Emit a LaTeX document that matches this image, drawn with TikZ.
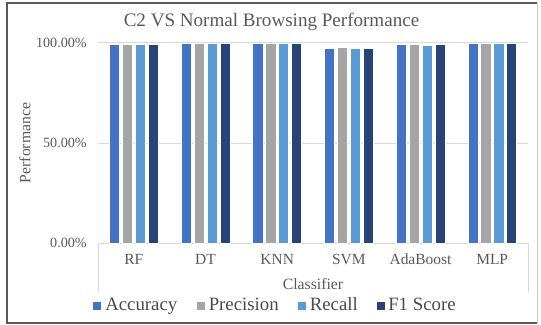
\documentclass[tikz,border=0pt]{standalone}
\usepackage{fontspec}
\setmainfont{Liberation Serif}
\usepackage{tikz}
\definecolor{acc}{HTML}{4472C4}
\definecolor{prec}{HTML}{A5A5A5}
\definecolor{rec}{HTML}{5B9BD5}
\definecolor{fone}{HTML}{264478}
\definecolor{grid}{HTML}{D9D9D9}
\definecolor{txt}{HTML}{595959}
\definecolor{legtxt}{HTML}{4A4A4A}
\tikzset{bar/.style={draw=white,line width=0.35pt}}
\tikzset{gridline/.style={draw=grid,line width=0.75pt}}
\tikzset{ticklab/.style={text=txt,anchor=base east,inner sep=0pt,font=\fontsize{10.6}{12}\selectfont}}
\tikzset{catlab/.style={text=txt,anchor=base,inner sep=0pt,font=\fontsize{11.6}{13}\selectfont}}
\tikzset{axislab/.style={text=txt,inner sep=0pt,font=\fontsize{11.8}{13}\selectfont}}
\tikzset{legbox/.style={minimum size=6pt,inner sep=0pt}}
\tikzset{legtext/.style={text=legtxt,anchor=base west,inner sep=0pt,font=\fontsize{14.1}{16}\selectfont}}

\begin{document}
\begin{tikzpicture}[x=0.75pt,y=-0.75pt]
    \useasboundingbox (0,0) rectangle (541,324);

    % frame
    \draw[draw=black!65,line width=1.1pt] (537,3) -- (7,3) -- (7,323) -- (537,323);
    \draw[draw=black!20,line width=0.6pt] (537,3) -- (537,323);

    % title
    \node[text=txt,anchor=base,inner sep=0pt,font=\fontsize{14.3}{16}\selectfont] (title) at (271.5,27)
    {C2 VS Normal Browsing Performance};

    % grid and axis
    \draw[gridline] (98,43) -- (528,43);
    \draw[gridline] (98,143) -- (528,143);
    \draw[gridline] (98,292) -- (98,243) -- (528,243) -- (528,292);

    \node[ticklab] (t100) at (87,47.8) {100.00\%};
    \node[ticklab] (t50) at (87,147.8) {50.00\%};
    \node[ticklab] (t0) at (87,247.8) {0.00\%};

    % bars
    \foreach \name/\a/\p/\r/\f [count=\i from 0] in
      {RF/99.0/99.0/99.0/99.0, DT/99.5/99.5/99.5/99.5, KNN/99.9/99.9/99.9/99.9,
       SVM/97.2/97.7/97.2/97.2, AdaBoost/99.0/99.0/98.8/99.0, MLP/99.5/99.5/99.5/99.5}
    {
      \pgfmathsetmacro\c{98+71.67*(\i+0.5)}
      \draw[bar,fill=acc]  ({\c-24.45},243) rectangle ({\c-14.25},{243-2.003*\a});
      \draw[bar,fill=prec] ({\c-11.55},243) rectangle ({\c-1.35},{243-2.003*\p});
      \draw[bar,fill=rec]  ({\c+1.35},243) rectangle ({\c+11.55},{243-2.003*\r});
      \draw[bar,fill=fone] ({\c+14.25},243) rectangle ({\c+24.45},{243-2.003*\f});
      \node[catlab] (cat\i) at (\c,264) {\name};
    }

    \node[axislab,anchor=base] (xlab) at (313,289) {Classifier};
    \node[axislab,rotate=90] (ylab) at (25,143) {Performance};

    % legend
    \node[legbox,fill=acc] (kacc) at (96.7,306) {};
    \node[legtext] (lacc) at (105,310.7) {Accuracy};
    \node[legbox,fill=prec] (kprec) at (200.5,306) {};
    \node[legtext] (lprec) at (208.5,310.7) {Precision};
    \node[legbox,fill=rec] (krec) at (301.6,306) {};
    \node[legtext] (lrec) at (309.5,310.7) {Recall};
    \node[legbox,fill=fone] (kfone) at (380.5,306) {};
    \node[legtext] (lfone) at (388,310.7) {F1 Score};

  \end{tikzpicture}
\end{document}
